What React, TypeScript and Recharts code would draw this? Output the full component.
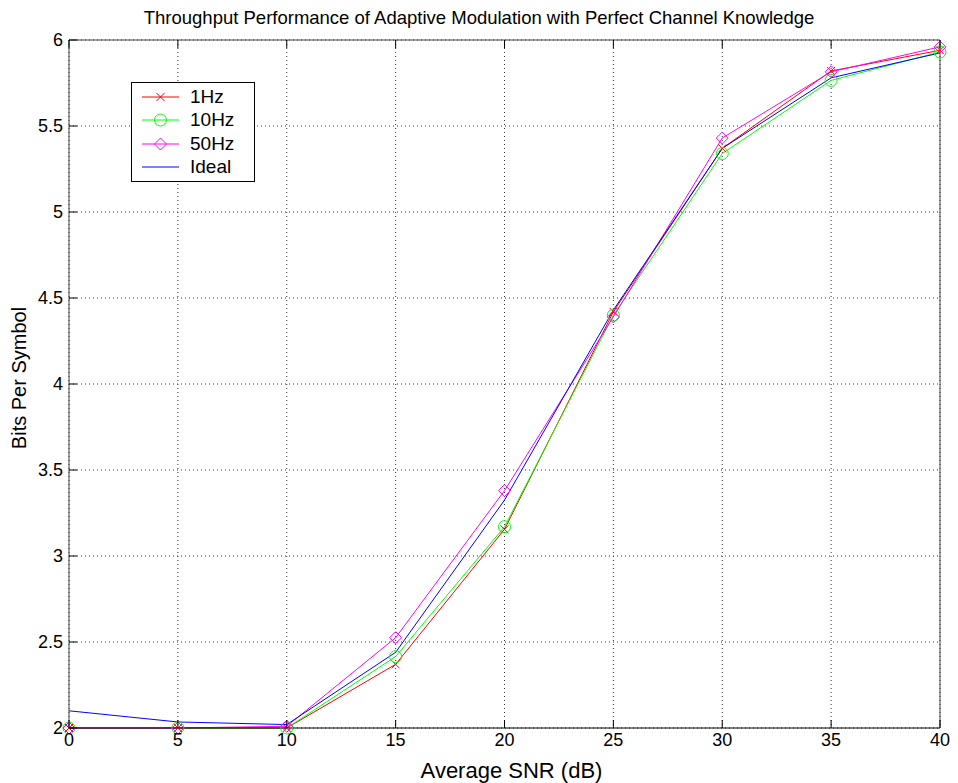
import { LineChart, Line, XAxis, YAxis, CartesianGrid, Legend } from 'recharts'

const snr = [0, 5, 10, 15, 20, 25, 30, 35, 40]
const hz1 = [2, 2, 2, 2.37, 3.155, 4.42, 5.37, 5.82, 5.94]
const hz10 = [2, 2, 2, 2.415, 3.17, 4.4, 5.34, 5.765, 5.93]
const hz50 = [2, 2, 2.01, 2.525, 3.38, 4.39, 5.43, 5.815, 5.96]
const ideal = [2.1, 2.035, 2.02, 2.44, 3.325, 4.43, 5.37, 5.78, 5.925]

const xTicks = [0, 5, 10, 15, 20, 25, 30, 35, 40]
const yTicks = [2, 2.5, 3, 3.5, 4, 4.5, 5, 5.5, 6]

const FONT = '"Liberation Sans", Arial, Helvetica, sans-serif'

const data = snr.map((s, i) => ({
  snr: s,
  hz1: hz1[i],
  hz10: hz10[i],
  hz50: hz50[i],
  ideal: ideal[i],
}))

const series = [
  { key: 'hz1', name: '1Hz', color: '#ff0000', marker: 'x' },
  { key: 'hz10', name: '10Hz', color: '#00ff00', marker: 'o' },
  { key: 'hz50', name: '50Hz', color: '#ff00ff', marker: 'd' },
  { key: 'ideal', name: 'Ideal', color: '#0000ff', marker: '' },
]

function Marker({ cx, cy, kind, color }: any) {
  if (cx == null || cy == null) return null
  if (kind === 'x') {
    const s = 4
    return (
      <g stroke={color} strokeWidth={1}>
        <line x1={cx - s} y1={cy - s} x2={cx + s} y2={cy + s} />
        <line x1={cx - s} y1={cy + s} x2={cx + s} y2={cy - s} />
      </g>
    )
  }
  if (kind === 'o') return <circle cx={cx} cy={cy} r={6} fill="none" stroke={color} strokeWidth={1} />
  if (kind === 'd') {
    const s = 6
    return (
      <polygon
        points={`${cx},${cy - s} ${cx + s},${cy} ${cx},${cy + s} ${cx - s},${cy}`}
        fill="none"
        stroke={color}
        strokeWidth={1}
      />
    )
  }
  return null
}

function BottomTick({ x, y, payload }: any) {
  return (
    <g>
      <line x1={x} y1={y} x2={x} y2={y - 8} stroke="#000" />
      <text x={x} y={y + 18} textAnchor="middle" fontSize={18} fontFamily={FONT} fill="#000">
        {payload.value}
      </text>
    </g>
  )
}

function LeftTick({ x, y, payload }: any) {
  return (
    <g>
      <line x1={x} y1={y} x2={x + 8} y2={y} stroke="#000" />
      <text x={x - 6} y={y + 6} textAnchor="end" fontSize={18} fontFamily={FONT} fill="#000">
        {payload.value}
      </text>
    </g>
  )
}

function TopTick({ x, y }: any) {
  return <line x1={x} y1={y} x2={x} y2={y + 8} stroke="#000" />
}

function RightTick({ x, y }: any) {
  return <line x1={x} y1={y} x2={x - 8} y2={y} stroke="#000" />
}

function LegendBox() {
  return (
    <div
      style={{
        width: 124,
        height: 100,
        border: '1px solid #000',
        background: '#fff',
        fontFamily: FONT,
        fontSize: 19,
        boxSizing: 'border-box',
        padding: '2px 0 0 0',
      }}
    >
      {series.map((s) => (
        <div key={s.key} style={{ display: 'flex', alignItems: 'center', height: 23.5 }}>
          <svg width={58} height={20}>
            <line x1={10} y1={10} x2={47} y2={10} stroke={s.color} strokeWidth={1} />
            <Marker cx={28.5} cy={10} kind={s.marker} color={s.color} />
          </svg>
          <span>{s.name}</span>
        </div>
      ))}
    </div>
  )
}

export default function App() {
  return (
    <div style={{ position: 'absolute', left: 0, top: 0, width: 958, height: 783, background: '#fff' }}>
      <div
        style={{
          position: 'absolute',
          left: 0,
          top: 7,
          width: 958,
          textAlign: 'center',
          fontFamily: FONT,
          fontSize: 18.5,
          color: '#000',
        }}
      >
        Throughput Performance of Adaptive Modulation with Perfect Channel Knowledge
      </div>
      <LineChart width={958} height={783} data={data} margin={{ top: 39, right: 17, bottom: 0, left: 0 }}>
        <CartesianGrid xAxisId="b" yAxisId="l" stroke="#333" strokeDasharray="1 3" />
        <XAxis
          xAxisId="b"
          dataKey="snr"
          type="number"
          domain={[0, 40]}
          ticks={xTicks}
          height={55}
          tickSize={0}
          tickMargin={0}
          axisLine={{ stroke: '#000' }}
          tickLine={false}
          tick={<BottomTick />}
          label={({ viewBox }: any) => (
            <text
              x={viewBox.x + viewBox.width / 2 + 7}
              y={viewBox.y + 50}
              textAnchor="middle"
              fontSize={22}
              fontFamily={FONT}
              fill="#000"
            >
              Average SNR (dB)
            </text>
          )}
        />
        <XAxis
          xAxisId="t"
          orientation="top"
          dataKey="snr"
          type="number"
          domain={[0, 40]}
          ticks={xTicks}
          height={1}
          tickSize={0}
          tickMargin={0}
          axisLine={{ stroke: '#444' }}
          tickLine={false}
          tick={<TopTick />}
        />
        <YAxis
          yAxisId="l"
          type="number"
          domain={[2, 6]}
          ticks={yTicks}
          width={69}
          tickSize={0}
          tickMargin={0}
          axisLine={{ stroke: '#444' }}
          tickLine={false}
          tick={<LeftTick />}
          label={({ viewBox }: any) => {
            const cx = viewBox.x + 26
            const cy = viewBox.y + viewBox.height / 2 - 6
            return (
              <text
                x={cx}
                y={cy}
                transform={`rotate(-90 ${cx} ${cy})`}
                textAnchor="middle"
                fontSize={20}
                fontFamily={FONT}
                fill="#000"
              >
                Bits Per Symbol
              </text>
            )
          }}
        />
        <YAxis
          yAxisId="r"
          orientation="right"
          type="number"
          domain={[2, 6]}
          ticks={yTicks}
          width={1}
          tickSize={0}
          tickMargin={0}
          axisLine={{ stroke: '#444' }}
          tickLine={false}
          tick={<RightTick />}
        />
        <Legend
          layout="vertical"
          align="center"
          verticalAlign="middle"
          wrapperStyle={{ left: 131, top: 82, width: 124, height: 100 }}
          content={() => <LegendBox />}
        />
        {series.map((s) => (
          <Line
            key={s.key}
            xAxisId="b"
            yAxisId="l"
            dataKey={s.key}
            name={s.name}
            stroke={s.color}
            strokeWidth={1}
            isAnimationActive={false}
            dot={(p: any) => <Marker key={`${s.key}-${p.index}`} cx={p.cx} cy={p.cy} kind={s.marker} color={s.color} />}
            activeDot={false}
          />
        ))}
      </LineChart>
    </div>
  )
}
